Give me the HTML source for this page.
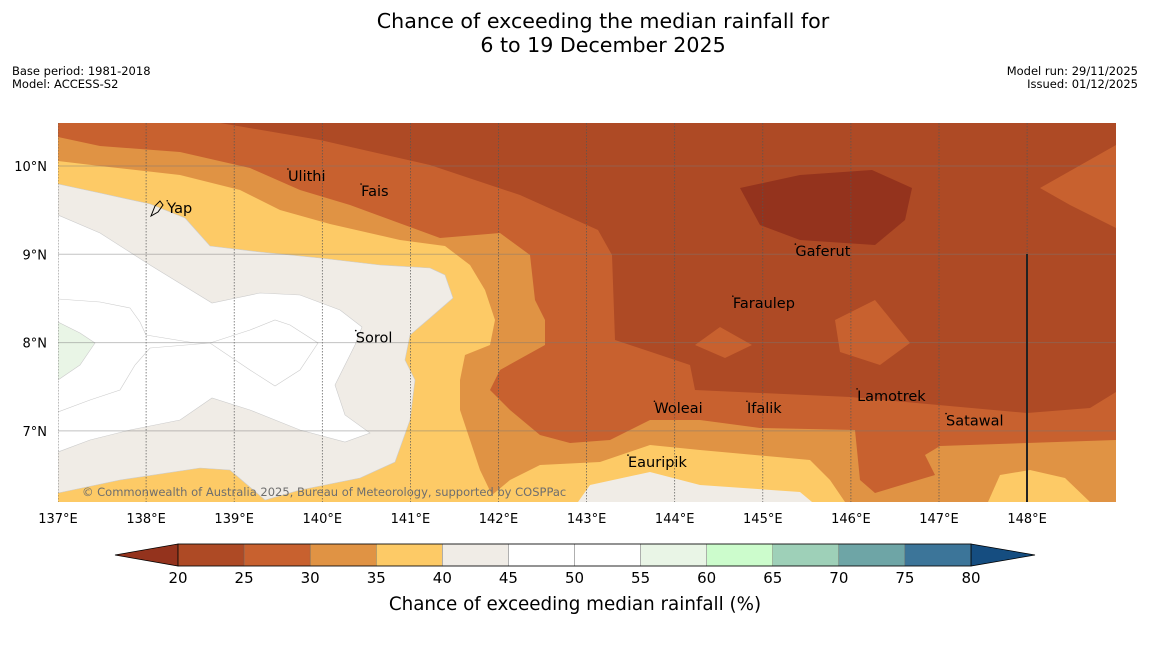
<!DOCTYPE html>
<html><head><meta charset="utf-8"><style>
body{margin:0;background:#fff;width:1150px;height:644px;overflow:hidden;font-family:"DejaVu Sans","Liberation Sans",sans-serif;}
</style></head><body>
<svg id="chart" width="1150" height="644" xmlns="http://www.w3.org/2000/svg" font-family="DejaVu Sans, Liberation Sans, sans-serif">
<text x="603" y="28" font-size="20.6" text-anchor="middle">Chance of exceeding the median rainfall for</text>
<text x="603" y="52" font-size="20.6" text-anchor="middle">6 to 19 December 2025</text>
<text x="12" y="75" font-size="11.5">Base period: 1981-2018</text>
<text x="12" y="88" font-size="11.5">Model: ACCESS-S2</text>
<text x="1138" y="75" font-size="11.5" text-anchor="end">Model run: 29/11/2025</text>
<text x="1138" y="88" font-size="11.5" text-anchor="end">Issued: 01/12/2025</text>
<defs><clipPath id="mc"><rect x="58" y="123" width="1058" height="379"/></clipPath></defs>
<g id="map" clip-path="url(#mc)">
<rect x="58" y="123" width="1058" height="379" fill="#ae4a25"/>
<polygon fill="#94331d" points="740,188 800,175 872,170 912,188 905,220 875,245 800,240 760,225"/>
<polygon fill="#c8612f" points="58,123 220,123 320,140 430,165 520,195 598,230 612,255 615,340 690,365 695,390 850,397 1027,413 1090,408 1116,392 1116,502 58,502"/>
<polygon fill="#c8612f" points="1116,145 1040,188 1070,205 1116,228"/>
<polygon fill="#c8612f" points="695,345 720,327 752,345 725,358"/>
<polygon fill="#c8612f" points="835,320 875,300 910,343 880,365 840,352"/>
<polygon fill="#e09344" points="58,137 100,146 180,152 250,168 300,190 350,205 440,238 500,233 530,255 535,300 545,320 545,345 500,370 490,390 510,410 540,435 570,443 610,440 650,420 700,420 760,428 855,430 860,480 875,493 935,475 925,455 940,446 1116,440 1116,502 58,502"/>
<polygon fill="#fdca66" points="58,161 100,166 180,175 240,190 280,210 330,224 400,240 445,246 470,265 485,290 495,320 490,345 465,355 460,380 460,410 470,440 480,470 492,495 510,480 540,465 600,462 650,445 700,450 810,460 830,480 845,502 58,502"/>
<polygon fill="#fdca66" points="988,502 1000,475 1030,470 1065,478 1090,502"/>
<polygon fill="#f0ece6" stroke="#ccc" stroke-width="0.6" points="58,184 100,193 150,204 185,218 210,246 260,252 320,258 380,265 430,268 445,275 453,298 430,318 410,335 405,360 415,380 410,420 395,462 360,478 300,490 265,500 230,470 200,468 120,480 58,493"/>
<polygon fill="#f0ece6" points="578,502 590,485 650,472 700,485 800,492 812,502"/>
<polygon fill="#ffffff" stroke="#ccc" stroke-width="0.6" points="58,215 100,233 150,265 212,303 260,293 300,295 340,310 362,327 355,345 335,385 345,415 370,433 345,442 300,430 250,410 212,398 180,420 130,430 90,440 58,452"/>
<polyline fill="none" stroke="#ccc" stroke-width="0.6" points="58,299 100,302 130,308 140,322 146,335 195,343 210,343 250,330 275,320 290,325 318,343 300,370 275,386 250,370 210,343 150,348 135,365 120,390 90,400 58,412"/>
<polygon fill="#e9f5e6" stroke="#ccc" stroke-width="0.6" points="58,322 80,333 95,343 80,365 58,380"/>
<g id="grid"></g>
<line x1="1027" y1="254" x2="1027" y2="502" stroke="#222" stroke-width="2"/>
<text x="82" y="496" font-size="11.5" fill="#6e6e6e">© Commonwealth of Australia 2025, Bureau of Meteorology, supported by COSPPac</text>
</g>
<path d="M151,216 L155,206 L160,201 L163,205 L158,212 Z" fill="none" stroke="#000" stroke-width="1"/>
<g id="places" font-size="14.5"></g>
<g id="axes" font-size="13"></g>
<g id="cbar"></g>
<text x="575" y="610" font-size="18.3" text-anchor="middle">Chance of exceeding median rainfall (%)</text>
</svg>
<script>
const lonTicks=[137,138,139,140,141,142,143,144,145,146,147,148];
const latTicks=[10,9,8,7];
const cbTicks=[20,25,30,35,40,45,50,55,60,65,70,75,80];
const cbColors=["#ae4a25","#c8612f","#e09344","#fdca66","#f0ece6","#ffffff","#ffffff","#e9f5e6","#ccfccc","#9ed0b8","#6ea5a6","#3c7599"];
const placeNames=["Ulithi","Fais","Yap","Gaferut","Faraulep","Sorol","Lamotrek","Woleai","Ifalik","Satawal","Eauripik"];
const placeLon=[139.61,140.44,138.24,145.37,144.66,140.38,146.07,143.77,144.82,147.08,143.47];
const placeLat=[9.83,9.66,9.47,8.98,8.39,8.0,7.34,7.2,7.2,7.06,6.59];
const NS="http://www.w3.org/2000/svg";
const X=l=>58+(l-137)*88.1, Y=t=>166+(10-t)*88.3;
const cbX=v=>178+(v-20)*(793/60);
function mk(tag,attrs,parent,txt){const e=document.createElementNS(NS,tag);for(const k in attrs)e.setAttribute(k,attrs[k]);if(txt!==undefined)e.textContent=txt;parent.appendChild(e);return e;}
const grid=document.getElementById('grid'),axes=document.getElementById('axes');
lonTicks.forEach(l=>{
 const ln=mk('line',{x1:X(l),x2:X(l),y1:123,y2:502,stroke:'#555','stroke-width':0.7,'stroke-dasharray':'1.5,1.5'},grid);
 
 
 const t=mk('text',{x:X(l),y:523,'text-anchor':'middle'},axes,l+'°E');
 
 
});
latTicks.forEach(t=>{
 const ln=mk('line',{x1:58,x2:1116,y1:Y(t),y2:Y(t),stroke:'#777','stroke-opacity':0.45,'stroke-width':1},grid);
 
 
 const tx=mk('text',{x:47,y:Y(t)+5,'text-anchor':'end'},axes,t+'°N');
 
 
});
const places=document.getElementById('places');
placeNames.forEach((n,i)=>{
 const x=X(placeLon[i]),y=Y(placeLat[i]);
 const d=mk('circle',{cx:x,cy:y-12,r:0.8,fill:'#000'},places);
 
 
 const t=mk('text',{x:x,y:y},places,n);
 
 
});
const cb=document.getElementById('cbar');
const y0=544,h=22;
const lt=mk('polygon',{points:`${cbX(20)},${y0} 115,${y0+h/2} ${cbX(20)},${y0+h}`,fill:'#94331d',stroke:'#000','stroke-width':0.8},cb);


const rt=mk('polygon',{points:`${cbX(80)},${y0} 1035,${y0+h/2} ${cbX(80)},${y0+h}`,fill:'#154d80',stroke:'#000','stroke-width':0.8},cb);


cbColors.forEach((c,i)=>{
 const r=mk('rect',{x:cbX(cbTicks[i]),y:y0,width:cbX(cbTicks[i+1])-cbX(cbTicks[i]),height:h,fill:c,stroke:'#666','stroke-width':0.4},cb);
 
 
});
const fr=mk('rect',{x:cbX(20),y:y0,width:cbX(80)-cbX(20),height:h,fill:'none',stroke:'#000','stroke-width':0.8},cb);


cbTicks.forEach(v=>{
 const t=mk('text',{x:cbX(v),y:583,'text-anchor':'middle','font-size':15},cb,v);
 
 
});
</script>
</body></html>
